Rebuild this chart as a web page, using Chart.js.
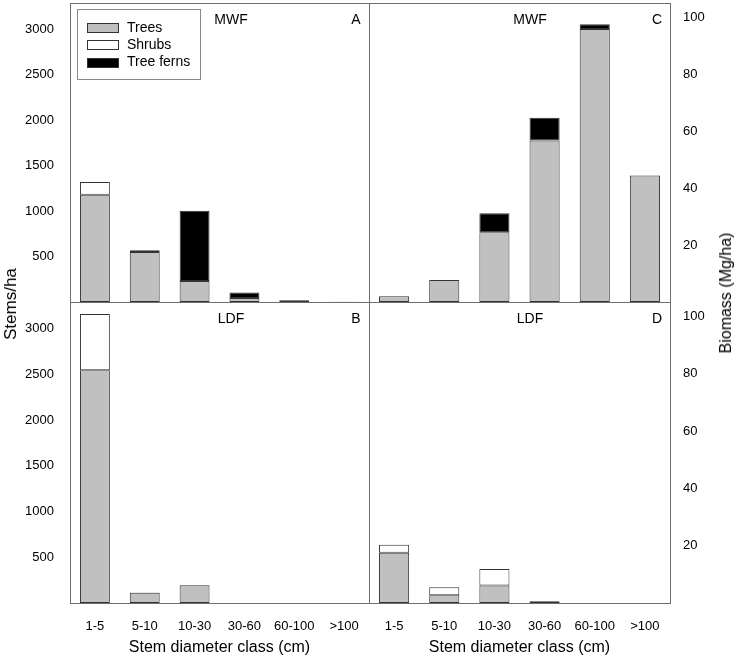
<!DOCTYPE html>
<html>
<head>
<meta charset="utf-8">
<script src="https://cdn.jsdelivr.net/npm/chart.js@4.4.1/dist/chart.umd.min.js"></script>
<style>
  body { margin: 0; background: #fff; }
  #wrap { position: relative; width: 738px; height: 659px; font-family: Arial, "Liberation Sans", sans-serif; }
  canvas { position: absolute; }
  .ytitle { position: absolute; white-space: nowrap; color: #000; transform: translate(-50%, -50%) rotate(-90deg); }
</style>
</head>
<body>
<div id="wrap">
  <canvas id="panelA" width="370" height="304" style="left:0;top:0"></canvas>
  <canvas id="panelC" width="370" height="304" style="left:368px;top:0"></canvas>
  <canvas id="panelB" width="370" height="358" style="left:0;top:301px"></canvas>
  <canvas id="panelD" width="370" height="358" style="left:368px;top:301px"></canvas>
  <div class="ytitle" style="left:11px;top:304px;font-size:17px">Stems/ha</div>
  <div class="ytitle" style="left:726px;top:293px;font-size:16px">Biomass (Mg/ha)</div>
</div>
<script>
const categories = ["1-5", "5-10", "10-30", "30-60", "60-100", ">100"];
const seriesNames = ["Trees", "Shrubs", "Tree ferns"];

// stems per hectare
const mwfStemsTrees = [1180, 550, 230, 45, 15, 4];
const mwfStemsShrubs = [140, null, null, null, null, null];
const mwfStemsFerns = [null, 20, 775, 60, 8, null];
const ldfStemsTrees = [2545, 112, 194, null, null, null];
const ldfStemsShrubs = [615, null, null, null, null, null];
const ldfStemsFerns = [null, 4, null, null, null, null];

// biomass, Mg/ha
const mwfBioTrees = [2, 7.7, 24.5, 56.7, 95.9, 44.4];
const mwfBioShrubs = [null, null, null, null, null, null];
const mwfBioFerns = [null, null, 6.7, 8, 1.6, null];
const ldfBioTrees = [17.5, 2.7, 6.1, 0.6, null, null];
const ldfBioShrubs = [2.8, 2.8, 5.8, null, null, null];
const ldfBioFerns = [null, null, null, null, null, null];

const stemTicks = [500, 1000, 1500, 2000, 2500, 3000];
const bioTicks = [20, 40, 60, 80, 100];
const stemMax = 3290;
const bioMax = 105;

const fills = ["#c0c0c0", "#ffffff", "#000000"];
const FONT = "Arial, 'Liberation Sans', sans-serif";

// frame, panel labels and (for panel A) the legend box
const panelPlugin = {
  id: "panel",
  afterDraw(chart, args, opts) {
    const { ctx, chartArea: a } = chart;
    ctx.save();
    ctx.strokeStyle = "#6e6e6e";
    ctx.lineWidth = 1;
    ctx.strokeRect(a.left + 0.5, a.top + 0.5, a.right - a.left, a.bottom - a.top);

    ctx.fillStyle = "#000";
    ctx.font = "14px " + FONT;
    ctx.textAlign = "center";
    ctx.textBaseline = "middle";
    ctx.fillText(opts.site, a.left + 161, a.top + 17);
    ctx.fillText(opts.letter, a.right - 13, a.top + 17);

    if (opts.legend) {
      const x = a.left + 7, y = a.top + 6;
      ctx.strokeStyle = "#8a8a8a";
      ctx.strokeRect(x + 0.5, y + 0.5, 123, 70);
      ctx.textAlign = "left";
      chart.data.datasets.forEach((ds, i) => {
        const sy = y + 14 + i * 17.3;
        ctx.fillStyle = ds.backgroundColor;
        ctx.fillRect(x + 10, Math.round(sy), 32, 10);
        ctx.strokeStyle = "#333";
        ctx.strokeRect(x + 10.5, Math.round(sy) + 0.5, 31, 9);
        ctx.fillStyle = "#000";
        ctx.fillText(ds.label, x + 50, sy + 5);
      });
    }
    ctx.restore();
  },
};

function noEdgePadding(scale) {
  scale.paddingTop = 0;
  scale.paddingBottom = 0;
  scale.paddingLeft = 0;
  scale.paddingRight = 0;
}

function makePanel(id, values, opts) {
  const isBottom = !!opts.bottom;
  const isRight = !!opts.right;
  const max = isRight ? bioMax : stemMax;
  const ticks = isRight ? bioTicks : stemTicks;

  return new Chart(document.getElementById(id), {
    type: "bar",
    data: {
      labels: categories,
      datasets: values.map((data, i) => ({
        label: seriesNames[i],
        data: data,
        backgroundColor: fills[i],
        borderColor: "#333333",
        borderWidth: 1,
        borderSkipped: false,
        barPercentage: 0.6,
        categoryPercentage: 1.0,
      })),
    },
    options: {
      responsive: false,
      animation: false,
      devicePixelRatio: 1,
      layout: {
        padding: {
          top: isBottom ? 1 : 3,
          bottom: isBottom ? 0 : 2,
          left: isRight ? 1 : 0,
          right: isRight ? 0 : 1,
        },
      },
      scales: {
        x: {
          stacked: true,
          display: isBottom,
          grid: { display: false },
          border: { display: false },
          ticks: {
            color: "#000",
            font: { family: FONT, size: 13 },
            padding: 8,
            maxRotation: 0,
            autoSkip: false,
          },
          title: {
            display: true,
            text: "Stem diameter class (cm)",
            color: "#000",
            font: { family: FONT, size: 16 },
            padding: { top: 0, bottom: 2 },
          },
          afterFit(scale) {
            noEdgePadding(scale);
            if (isBottom) scale.height = 56;
          },
        },
        y: {
          stacked: true,
          position: isRight ? "right" : "left",
          min: 0,
          max: max,
          grid: { display: false },
          border: { display: false },
          ticks: {
            color: "#000",
            font: { family: FONT, size: 13 },
            padding: isRight ? 5 : 8,
            callback: (v) => String(v),
          },
          afterBuildTicks(scale) { scale.ticks = ticks.map((v) => ({ value: v })); },
          afterFit(scale) {
            noEdgePadding(scale);
            scale.width = isRight ? 68 : 70;
          },
        },
      },
      plugins: {
        legend: { display: false },
        tooltip: { enabled: false },
        panel: { site: opts.site, letter: opts.letter, legend: !!opts.legend },
      },
    },
    plugins: [panelPlugin],
  });
}

makePanel("panelA", [mwfStemsTrees, mwfStemsShrubs, mwfStemsFerns], { site: "MWF", letter: "A", legend: true });
makePanel("panelB", [ldfStemsTrees, ldfStemsShrubs, ldfStemsFerns], { site: "LDF", letter: "B", bottom: true });
makePanel("panelC", [mwfBioTrees, mwfBioShrubs, mwfBioFerns], { site: "MWF", letter: "C", right: true });
makePanel("panelD", [ldfBioTrees, ldfBioShrubs, ldfBioFerns], { site: "LDF", letter: "D", right: true, bottom: true });
</script>
</body>
</html>
